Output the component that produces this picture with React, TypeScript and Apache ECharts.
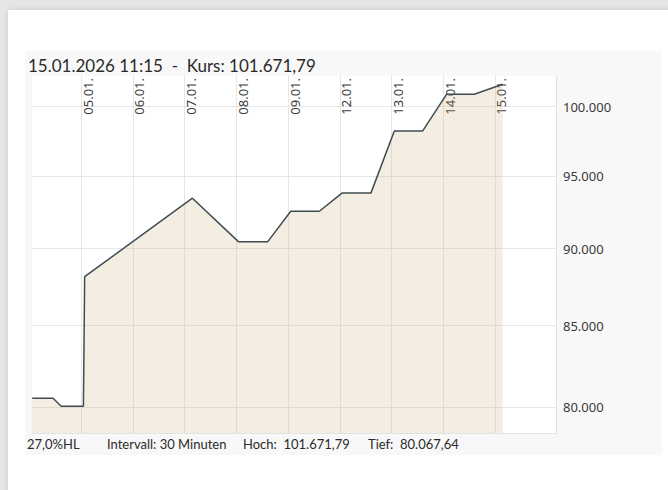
import React, { useEffect, useRef } from 'react';
import * as echarts from 'echarts';

// Trading-day positions: 02.01 = 0, 05.01 = 1, ... 15.01 = 9
const dayLabels = ['05.01.', '06.01.', '07.01.', '08.01.', '09.01.', '12.01.', '13.01.', '14.01.', '15.01.'];
const dayPositions = [1, 2, 3, 4, 5, 6, 7, 8, 9];

const pricePositions = [0.053, 0.459, 0.614, 1.044, 1.068, 3.151, 4.04, 4.608, 5.052, 5.605, 6.049, 6.604, 7.054, 7.603, 8.067, 8.6, 9.15];
const priceValues = [80536, 80536, 80067.64, 80067.64, 88144, 93431, 90466, 90466, 92529, 92529, 93800, 93800, 98216, 98216, 100929, 100929, 101671.79];

const yTicks = [80000, 85000, 90000, 95000, 100000];

const titleText = '15.01.2026 11:15  -  Kurs: 101.671,79';
const footerTexts = ['27,0%HL', 'Intervall: 30 Minuten', 'Hoch:  101.671,79', 'Tief:  80.067,64'];
const footerLefts = [27, 107, 243, 368];

const fmtDE = (v: number) => Math.round(v).toString().replace(/\B(?=(\d{3})+(?!\d))/g, '.');

export default function App() {
  const ref = useRef<HTMLDivElement>(null);
  useEffect(() => {
    if (!ref.current) return;
    const chart = echarts.init(ref.current, undefined, { renderer: 'svg' });
    const textFont = 'Lato, "Noto Sans", sans-serif';
    const axisFont = '"Noto Sans", "Open Sans", sans-serif';
    chart.setOption({
      animation: false,
      title: [
        {
          text: titleText,
          left: 28,
          top: 57,
          padding: 0,
          textStyle: { fontFamily: textFont, fontSize: 17, fontWeight: 'normal', color: '#2b2b2b' },
        },
        ...footerTexts.map((t, i) => ({
          text: t,
          left: footerLefts[i],
          top: 437,
          padding: 0,
          textStyle: { fontFamily: textFont, fontSize: 13, fontWeight: 'normal', color: '#2b2b2b' },
        })),
      ],
      grid: {
        left: 32,
        right: 112,
        top: 76,
        bottom: 57,
        show: true,
        backgroundColor: '#ffffff',
        borderWidth: 0,
      },
      xAxis: [
        {
          type: 'value',
          position: 'top',
          min: 0.05,
          max: 10.18,
          axisLine: { show: false },
          axisTick: { show: false, customValues: dayPositions },
          axisLabel: {
            customValues: dayPositions,
            inside: true,
            rotate: -90,
            margin: 2,
            verticalAlign: 'top',
            fontFamily: axisFont,
            fontSize: 13,
            color: '#3a3a3a',
            formatter: (v: number) => dayLabels[dayPositions.indexOf(Math.round(v))] ?? '',
          },
          splitLine: { show: true, lineStyle: { color: '#e6e6e6', width: 1 } },
        },
        {
          type: 'value',
          position: 'bottom',
          min: 0.05,
          max: 10.18,
          axisLine: { show: true, lineStyle: { color: '#e3e3e3', width: 1 } },
          axisTick: { show: false },
          axisLabel: { show: false },
          splitLine: { show: false },
        },
      ],
      yAxis: {
        type: 'log',
        logBase: 10,
        position: 'right',
        min: 78490,
        max: 102300,
        axisLine: { show: true, lineStyle: { color: '#e3e3e3', width: 1 } },
        axisTick: { show: false, customValues: yTicks },
        axisLabel: {
          customValues: yTicks,
          margin: 7,
          fontFamily: axisFont,
          fontSize: 13,
          color: '#3a3a3a',
          formatter: (v: number) => fmtDE(v),
        },
        splitLine: { show: true, lineStyle: { color: '#e6e6e6', width: 1 } },
      },
      series: [
        {
          type: 'line',
          xAxisIndex: 0,
          data: pricePositions.map((x, i) => [x, priceValues[i]]),
          showSymbol: false,
          symbol: 'none',
          lineStyle: { color: '#3e4d52', width: 1.5 },
          areaStyle: { color: 'rgba(200,170,120,0.3)', origin: 'start' },
          silent: true,
        },
      ],
    });
    return () => chart.dispose();
  }, []);

  return (
    <div style={{ position: 'absolute', left: 0, top: 0, width: 668, height: 490, background: '#e6e6e6', overflow: 'hidden' }}>
      <div style={{ position: 'absolute', left: 8, top: 10, width: 700, height: 520, background: '#ffffff', boxShadow: '0 0 6px rgba(0,0,0,0.12)' }} />
      <div style={{ position: 'absolute', left: 25, top: 51, width: 637, height: 404, background: '#f8f8f8' }} />
      <div ref={ref} style={{ position: 'absolute', left: 0, top: 0, width: 668, height: 490 }} />
    </div>
  );
}
